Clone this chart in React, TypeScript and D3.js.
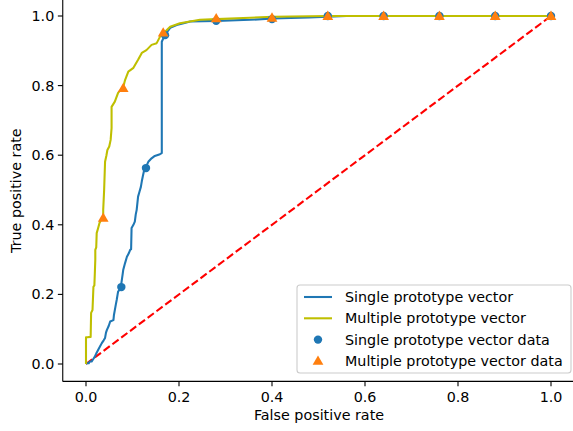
import React from "react";
import * as d3 from "d3";

const W = 573;
const H = 431;

// ROC curve vertices [fpr, tpr]
const singleCurve: [number, number][] = [
  [0, 0], [0.0015, 0.002], [0.006, 0.002], [0.008, 0.007], [0.012, 0.007], [0.015, 0.013], [0.019, 0.021],
  [0.022, 0.03], [0.026, 0.04], [0.03, 0.05], [0.034, 0.06], [0.038, 0.068], [0.041, 0.075],
  [0.043, 0.09], [0.045, 0.098], [0.049, 0.11], [0.052, 0.122], [0.059, 0.126], [0.06, 0.14],
  [0.062, 0.155], [0.064, 0.17], [0.066, 0.184], [0.068, 0.2], [0.069, 0.208], [0.073, 0.215],
  [0.075, 0.222], [0.077, 0.241], [0.079, 0.26], [0.08, 0.27], [0.084, 0.29], [0.088, 0.308],
  [0.092, 0.318], [0.095, 0.328], [0.097, 0.33], [0.098, 0.391], [0.102, 0.4], [0.105, 0.409],
  [0.107, 0.43], [0.109, 0.443], [0.112, 0.481], [0.115, 0.495], [0.118, 0.509], [0.12, 0.525],
  [0.122, 0.538], [0.125, 0.557], [0.128, 0.564], [0.131, 0.572], [0.134, 0.581], [0.141, 0.591],
  [0.148, 0.598], [0.159, 0.603], [0.163, 0.606], [0.163, 0.926], [0.166, 0.935], [0.17, 0.94],
  [0.175, 0.955], [0.181, 0.966], [0.195, 0.974], [0.21, 0.979], [0.224, 0.984], [0.281, 0.986],
  [0.353, 0.989], [0.402, 0.993], [0.48, 0.996], [0.56, 1.0], [1, 1],
];

const multipleCurve: [number, number][] = [
  [0, 0], [0, 0.077], [0.003, 0.077], [0.01, 0.078], [0.011, 0.147], [0.014, 0.155],
  [0.016, 0.222], [0.018, 0.226], [0.019, 0.261], [0.02, 0.3], [0.02, 0.328], [0.022, 0.335],
  [0.023, 0.376], [0.026, 0.39], [0.029, 0.405], [0.033, 0.415], [0.037, 0.422], [0.037, 0.443],
  [0.039, 0.5], [0.041, 0.581], [0.044, 0.6], [0.046, 0.615], [0.05, 0.625], [0.053, 0.644],
  [0.055, 0.678], [0.055, 0.739], [0.062, 0.754], [0.069, 0.779], [0.076, 0.79], [0.081, 0.8],
  [0.084, 0.816], [0.091, 0.84], [0.102, 0.851], [0.112, 0.874], [0.12, 0.894], [0.13, 0.902],
  [0.141, 0.917], [0.152, 0.922], [0.159, 0.94], [0.163, 0.951], [0.17, 0.955], [0.181, 0.969],
  [0.202, 0.979], [0.245, 0.989], [0.281, 0.991], [0.353, 0.995], [0.402, 0.998], [0.52, 1.0],
  [1, 1],
];

const singleData: [number, number][] = [
  [0.076, 0.221], [0.129, 0.563], [0.17, 0.945], [0.28, 0.986], [0.4, 0.991],
  [0.52, 1.0], [0.64, 1.0], [0.76, 1.0], [0.88, 1.0], [1.0, 1.0],
];

const multipleData: [number, number][] = [
  [0.037, 0.42], [0.08, 0.793], [0.166, 0.952], [0.28, 0.993], [0.4, 0.995],
  [0.52, 1.0], [0.64, 1.0], [0.76, 1.0], [0.88, 1.0], [1.0, 1.0],
];

const diagonal: [number, number][] = [[0, 0], [1, 1]];

const xTicks = [0, 0.2, 0.4, 0.6, 0.8, 1.0];
const yTicks = [0, 0.2, 0.4, 0.6, 0.8, 1.0];

const legendItems = [
  { label: "Single prototype vector", kind: "line", color: "#1f77b4" },
  { label: "Multiple prototype vector", kind: "line", color: "#bfbf00" },
  { label: "Single prototype vector data", kind: "circle", color: "#1f77b4" },
  { label: "Multiple prototype vector data", kind: "triangle", color: "#ff7f0e" },
];

export default function App() {
  const x = d3.scaleLinear().domain([-0.05, 1.05]).range([62.75, 574.25]);
  const y = d3.scaleLinear().domain([-0.05, 1.05]).range([381.4, -1.4]);
  const line = d3.line<[number, number]>().x((d) => x(d[0])).y((d) => y(d[1]));
  const tri = d3.symbol().type(d3.symbolTriangle).size(50)();
  const font = "DejaVu Sans, sans-serif";
  const fs = 14.3;
  const left = 62.75;
  const bottom = 381.4;
  const legX = 297, legY = 285, legW = 274, legH = 88;
  const rowY = (i: number) => 297 + i * 21.3;

  return (
    <svg width={W} height={H} style={{ position: "absolute", left: 0, top: 0, background: "#fff" }} fontFamily={font}>
      <rect x={0} y={0} width={W} height={H} fill="#fff" />
      <path d={line(diagonal) || ""} stroke="#ff0000" strokeWidth={2.08} strokeDasharray="7.7,3.3" fill="none" />
      <path d={line(singleCurve) || ""} stroke="#1f77b4" strokeWidth={2.08} fill="none" strokeLinejoin="round" />
      <path d={line(multipleCurve) || ""} stroke="#bfbf00" strokeWidth={2.08} fill="none" strokeLinejoin="round" />
      {singleData.map((d, i) => (
        <circle key={"c" + i} cx={x(d[0])} cy={y(d[1])} r={4.2} fill="#1f77b4" />
      ))}
      {multipleData.map((d, i) => (
        <path key={"t" + i} d={tri || ""} transform={`translate(${x(d[0])},${y(d[1]) + 0.8})`} fill="#ff7f0e" />
      ))}
      <line x1={left} x2={left} y1={-2} y2={bottom} stroke="#000" strokeWidth={1.1} />
      <line x1={left} x2={574} y1={bottom} y2={bottom} stroke="#000" strokeWidth={1.1} />
      {xTicks.map((t) => (
        <g key={"xt" + t}>
          <line x1={x(t)} x2={x(t)} y1={bottom} y2={bottom + 4.9} stroke="#000" strokeWidth={1.1} />
          <text x={x(t)} y={bottom + 20.5} fontSize={fs} textAnchor="middle" fill="#000">{t.toFixed(1)}</text>
        </g>
      ))}
      {yTicks.map((t) => (
        <g key={"yt" + t}>
          <line x1={left - 4.9} x2={left} y1={y(t)} y2={y(t)} stroke="#000" strokeWidth={1.1} />
          <text x={left - 8.5} y={y(t) + 5} fontSize={fs} textAnchor="end" fill="#000">{t.toFixed(1)}</text>
        </g>
      ))}
      <text x={319} y={420} fontSize={fs} textAnchor="middle" fill="#000">False positive rate</text>
      <text transform={`translate(21,${bottom / 2}) rotate(-90)`} fontSize={fs} textAnchor="middle" fill="#000">True positive rate</text>
      <rect x={legX} y={legY} width={legW} height={legH} rx={3} fill="#fff" fillOpacity={0.8} stroke="#cccccc" strokeWidth={1.1} />
      {legendItems.map((it, i) => (
        <g key={"lg" + i}>
          {it.kind === "line" && (
            <line x1={304} x2={332} y1={rowY(i)} y2={rowY(i)} stroke={it.color} strokeWidth={2.08} />
          )}
          {it.kind === "circle" && <circle cx={318} cy={rowY(i)} r={4.2} fill={it.color} />}
          {it.kind === "triangle" && (
            <path d={tri || ""} transform={`translate(318,${rowY(i) + 0.8})`} fill={it.color} />
          )}
          <text x={345} y={rowY(i) + 5} fontSize={fs} fill="#000">{it.label}</text>
        </g>
      ))}
    </svg>
  );
}
